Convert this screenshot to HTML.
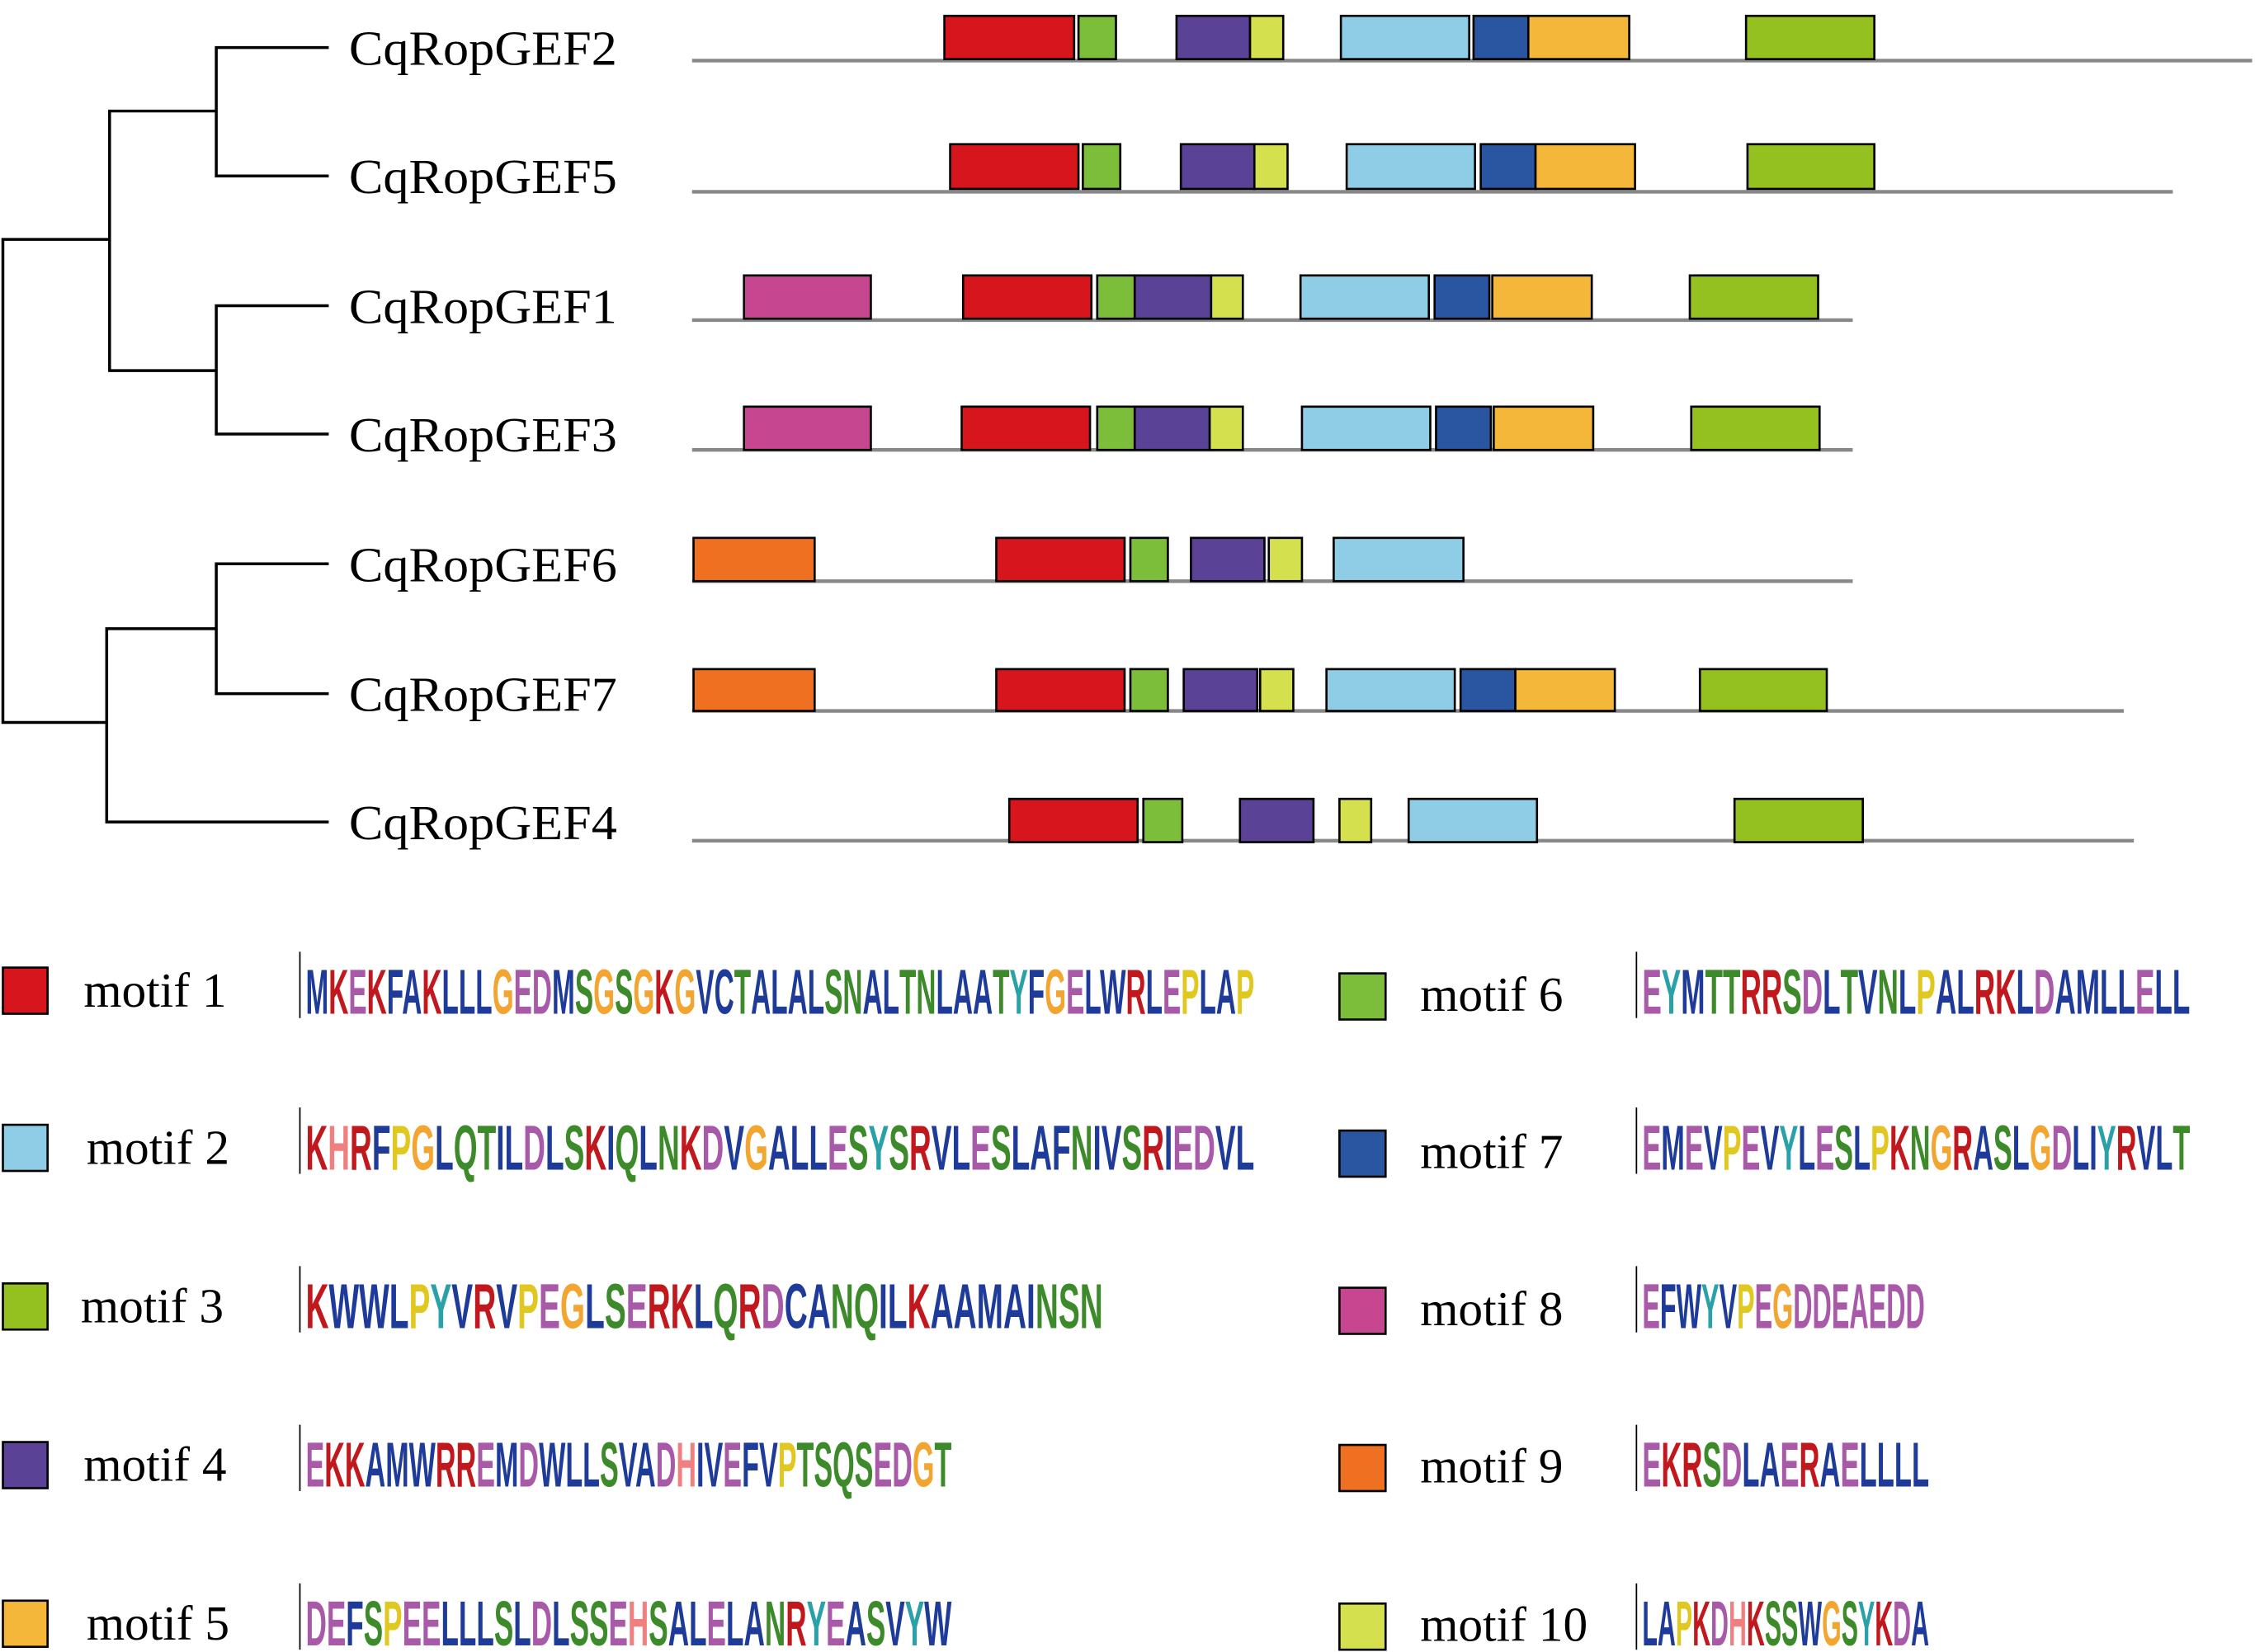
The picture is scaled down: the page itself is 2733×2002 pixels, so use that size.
<!DOCTYPE html>
<html><head><meta charset="utf-8"><style>
html,body{margin:0;padding:0;background:#fff}
svg{display:block}
.b{fill:#1f3b99}.r{fill:#c0181c}.p{fill:#a85aa8}.g{fill:#3d8a2a}.o{fill:#f2a530}.y{fill:#2aa0a8}.h{fill:#f08080}.yl{fill:#e0c820}
.logo{font-family:"Liberation Sans",sans-serif;font-size:44px;font-weight:bold}
.lab{font-family:"Liberation Serif",serif;font-size:34px;fill:#000}
</style></head><body>
<svg width="2733" height="2002" viewBox="0 0 1564 1145.6" preserveAspectRatio="none" xmlns="http://www.w3.org/2000/svg">
<g stroke="#000" stroke-width="2" fill="none">
<path d="M228 33H150V122H228M150 77H76V257H150M228 212H150V301H228M228 391H150V481H228M150 436H74V570H228M76 166H2V501H74"/>
</g>
<g class="lab">
<text x="242" y="45" textLength="186" lengthAdjust="spacingAndGlyphs">CqRopGEF2</text><text x="242" y="134" textLength="186" lengthAdjust="spacingAndGlyphs">CqRopGEF5</text><text x="242" y="224" textLength="186" lengthAdjust="spacingAndGlyphs">CqRopGEF1</text>
<text x="242" y="313" textLength="186" lengthAdjust="spacingAndGlyphs">CqRopGEF3</text><text x="242" y="403" textLength="186" lengthAdjust="spacingAndGlyphs">CqRopGEF6</text><text x="242" y="493" textLength="186" lengthAdjust="spacingAndGlyphs">CqRopGEF7</text><text x="242" y="582" textLength="186" lengthAdjust="spacingAndGlyphs">CqRopGEF4</text>
</g>
<g stroke="#888" stroke-width="2.5">
<line x1="480" y1="42" x2="1562" y2="42"/><line x1="480" y1="133" x2="1507" y2="133"/><line x1="480" y1="222" x2="1285" y2="222"/>
<line x1="480" y1="312" x2="1285" y2="312"/><line x1="480" y1="403" x2="1285" y2="403"/><line x1="480" y1="493" x2="1473" y2="493"/><line x1="480" y1="583" x2="1480" y2="583"/>
</g>
<g stroke="#000" stroke-width="1.5">
<g transform="translate(0,11)">
<rect x="655" width="90" height="30" fill="#d7151c"/><rect x="748" width="26" height="30" fill="#7cbd3a"/><rect x="816" width="51" height="30" fill="#5a4297"/><rect x="867" width="23" height="30" fill="#d5e04e"/><rect x="930" width="89" height="30" fill="#8ecde5"/><rect x="1022" width="38" height="30" fill="#2a56a1"/><rect x="1060" width="70" height="30" fill="#f4b73a"/><rect x="1211" width="89" height="30" fill="#94c11f"/>
</g>
<g transform="translate(0,100)">
<rect x="659" width="89" height="31" fill="#d7151c"/><rect x="751" width="26" height="31" fill="#7cbd3a"/><rect x="819" width="51" height="31" fill="#5a4297"/><rect x="870" width="23" height="31" fill="#d5e04e"/><rect x="934" width="89" height="31" fill="#8ecde5"/><rect x="1027" width="38" height="31" fill="#2a56a1"/><rect x="1065" width="69" height="31" fill="#f4b73a"/><rect x="1212" width="88" height="31" fill="#94c11f"/>
</g>
<g transform="translate(0,191)">
<rect x="516" width="88" height="30" fill="#c6468f"/><rect x="668" width="89" height="30" fill="#d7151c"/><rect x="761" width="26" height="30" fill="#7cbd3a"/><rect x="787" width="53" height="30" fill="#5a4297"/><rect x="840" width="22" height="30" fill="#d5e04e"/><rect x="902" width="89" height="30" fill="#8ecde5"/><rect x="995" width="38" height="30" fill="#2a56a1"/><rect x="1035" width="69" height="30" fill="#f4b73a"/><rect x="1172" width="89" height="30" fill="#94c11f"/>
</g>
<g transform="translate(0,282)">
<rect x="516" width="88" height="30" fill="#c6468f"/><rect x="667" width="89" height="30" fill="#d7151c"/><rect x="761" width="26" height="30" fill="#7cbd3a"/><rect x="787" width="52" height="30" fill="#5a4297"/><rect x="839" width="23" height="30" fill="#d5e04e"/><rect x="903" width="89" height="30" fill="#8ecde5"/><rect x="996" width="38" height="30" fill="#2a56a1"/><rect x="1036" width="69" height="30" fill="#f4b73a"/><rect x="1173" width="89" height="30" fill="#94c11f"/>
</g>
<g transform="translate(0,373)">
<rect x="481" width="84" height="30" fill="#ef7021"/><rect x="691" width="89" height="30" fill="#d7151c"/><rect x="784" width="26" height="30" fill="#7cbd3a"/><rect x="826" width="51" height="30" fill="#5a4297"/><rect x="880" width="23" height="30" fill="#d5e04e"/><rect x="925" width="90" height="30" fill="#8ecde5"/>
</g>
<g transform="translate(0,464)">
<rect x="481" width="84" height="29" fill="#ef7021"/><rect x="691" width="89" height="29" fill="#d7151c"/><rect x="784" width="26" height="29" fill="#7cbd3a"/><rect x="821" width="51" height="29" fill="#5a4297"/><rect x="874" width="23" height="29" fill="#d5e04e"/><rect x="920" width="89" height="29" fill="#8ecde5"/><rect x="1013" width="38" height="29" fill="#2a56a1"/><rect x="1051" width="69" height="29" fill="#f4b73a"/><rect x="1179" width="88" height="29" fill="#94c11f"/>
</g>
<g transform="translate(0,554)">
<rect x="700" width="89" height="30" fill="#d7151c"/><rect x="793" width="27" height="30" fill="#7cbd3a"/><rect x="860" width="51" height="30" fill="#5a4297"/><rect x="929" width="22" height="30" fill="#d5e04e"/><rect x="977" width="89" height="30" fill="#8ecde5"/><rect x="1203" width="89" height="30" fill="#94c11f"/>
</g>
<rect x="2" y="671" width="31" height="32" fill="#d7151c"/><rect x="2" y="780" width="31" height="32" fill="#8ecde5"/><rect x="2" y="890" width="31" height="32" fill="#94c11f"/><rect x="2" y="1000" width="31" height="32" fill="#5a4297"/><rect x="2" y="1110" width="31" height="32" fill="#f4b73a"/>
<rect x="929" y="675" width="32" height="32" fill="#7cbd3a"/><rect x="929" y="784" width="32" height="32" fill="#2a56a1"/><rect x="929" y="893" width="32" height="32" fill="#c6468f"/><rect x="929" y="1002" width="32" height="32" fill="#ef7021"/><rect x="929" y="1112" width="32" height="32" fill="#d5e04e"/>
</g>
<g class="lab">
<text x="58" y="698">motif 1</text><text x="60" y="807">motif 2</text><text x="56" y="917">motif 3</text><text x="58" y="1027">motif 4</text><text x="60" y="1137">motif 5</text>
<text x="985" y="701">motif 6</text><text x="985" y="810">motif 7</text><text x="985" y="919">motif 8</text><text x="985" y="1028">motif 9</text><text x="985" y="1138">motif 10</text>
</g>
<g class="logo" stroke="none">
<g stroke="#000" stroke-width="1"><line x1="208" y1="660" x2="208" y2="706"/><line x1="208" y1="768" x2="208" y2="814"/><line x1="208" y1="878" x2="208" y2="924"/><line x1="208" y1="988" x2="208" y2="1034"/><line x1="208" y1="1098" x2="208" y2="1144"/>
<line x1="1135" y1="660" x2="1135" y2="706"/><line x1="1135" y1="768" x2="1135" y2="814"/><line x1="1135" y1="878" x2="1135" y2="924"/><line x1="1135" y1="988" x2="1135" y2="1034"/><line x1="1135" y1="1098" x2="1135" y2="1144"/></g>
<text x="212" y="703" textLength="658" lengthAdjust="spacingAndGlyphs"><tspan class="b">M</tspan><tspan class="r">K</tspan><tspan class="p">E</tspan><tspan class="r">K</tspan><tspan class="b">FA</tspan><tspan class="r">K</tspan><tspan class="b">LLL</tspan><tspan class="o">G</tspan><tspan class="p">ED</tspan><tspan class="b">M</tspan><tspan class="g">S</tspan><tspan class="o">G</tspan><tspan class="g">S</tspan><tspan class="o">G</tspan><tspan class="r">K</tspan><tspan class="o">G</tspan><tspan class="b">VC</tspan><tspan class="g">T</tspan><tspan class="b">ALAL</tspan><tspan class="g">SN</tspan><tspan class="b">AL</tspan><tspan class="g">TN</tspan><tspan class="b">LAA</tspan><tspan class="g">T</tspan><tspan class="y">Y</tspan><tspan class="b">F</tspan><tspan class="o">G</tspan><tspan class="p">E</tspan><tspan class="b">LW</tspan><tspan class="r">R</tspan><tspan class="b">L</tspan><tspan class="p">E</tspan><tspan class="yl">P</tspan><tspan class="b">LA</tspan><tspan class="yl">P</tspan></text>
<text x="212" y="811" textLength="658" lengthAdjust="spacingAndGlyphs"><tspan class="r">K</tspan><tspan class="h">H</tspan><tspan class="r">R</tspan><tspan class="b">F</tspan><tspan class="yl">P</tspan><tspan class="o">G</tspan><tspan class="b">L</tspan><tspan class="g">Q</tspan><tspan class="g">T</tspan><tspan class="b">IL</tspan><tspan class="p">D</tspan><tspan class="b">L</tspan><tspan class="g">S</tspan><tspan class="r">K</tspan><tspan class="b">I</tspan><tspan class="g">Q</tspan><tspan class="b">L</tspan><tspan class="g">N</tspan><tspan class="r">K</tspan><tspan class="p">D</tspan><tspan class="b">V</tspan><tspan class="o">G</tspan><tspan class="b">ALL</tspan><tspan class="p">E</tspan><tspan class="g">S</tspan><tspan class="y">Y</tspan><tspan class="g">S</tspan><tspan class="r">R</tspan><tspan class="b">VL</tspan><tspan class="p">E</tspan><tspan class="g">S</tspan><tspan class="b">LAF</tspan><tspan class="g">N</tspan><tspan class="b">IV</tspan><tspan class="g">S</tspan><tspan class="r">R</tspan><tspan class="b">I</tspan><tspan class="p">ED</tspan><tspan class="b">VL</tspan></text>
<text x="212" y="921" textLength="553" lengthAdjust="spacingAndGlyphs"><tspan class="r">K</tspan><tspan class="b">WWL</tspan><tspan class="yl">P</tspan><tspan class="y">Y</tspan><tspan class="b">V</tspan><tspan class="r">R</tspan><tspan class="b">V</tspan><tspan class="yl">P</tspan><tspan class="p">E</tspan><tspan class="o">G</tspan><tspan class="b">L</tspan><tspan class="g">S</tspan><tspan class="p">E</tspan><tspan class="r">RK</tspan><tspan class="b">L</tspan><tspan class="g">Q</tspan><tspan class="r">R</tspan><tspan class="p">D</tspan><tspan class="b">CA</tspan><tspan class="g">NQ</tspan><tspan class="b">IL</tspan><tspan class="r">K</tspan><tspan class="b">AAMAI</tspan><tspan class="g">NSN</tspan></text>
<text x="212" y="1031" textLength="448" lengthAdjust="spacingAndGlyphs"><tspan class="p">E</tspan><tspan class="r">KK</tspan><tspan class="b">AMW</tspan><tspan class="r">RR</tspan><tspan class="p">E</tspan><tspan class="b">M</tspan><tspan class="p">D</tspan><tspan class="b">WLL</tspan><tspan class="g">S</tspan><tspan class="b">VA</tspan><tspan class="p">D</tspan><tspan class="h">H</tspan><tspan class="b">IV</tspan><tspan class="p">E</tspan><tspan class="b">FV</tspan><tspan class="yl">P</tspan><tspan class="g">TSQS</tspan><tspan class="p">ED</tspan><tspan class="o">G</tspan><tspan class="g">T</tspan></text>
<text x="212" y="1141" textLength="448" lengthAdjust="spacingAndGlyphs"><tspan class="p">DE</tspan><tspan class="b">F</tspan><tspan class="g">S</tspan><tspan class="yl">P</tspan><tspan class="p">EE</tspan><tspan class="b">LLL</tspan><tspan class="g">S</tspan><tspan class="b">L</tspan><tspan class="p">D</tspan><tspan class="b">L</tspan><tspan class="g">SS</tspan><tspan class="p">E</tspan><tspan class="h">H</tspan><tspan class="g">S</tspan><tspan class="b">AL</tspan><tspan class="p">E</tspan><tspan class="b">LA</tspan><tspan class="g">N</tspan><tspan class="r">R</tspan><tspan class="y">Y</tspan><tspan class="p">E</tspan><tspan class="b">A</tspan><tspan class="g">S</tspan><tspan class="b">V</tspan><tspan class="y">Y</tspan><tspan class="b">W</tspan></text>
<text x="1139" y="703" textLength="380" lengthAdjust="spacingAndGlyphs"><tspan class="p">E</tspan><tspan class="y">Y</tspan><tspan class="b">M</tspan><tspan class="g">TT</tspan><tspan class="r">RR</tspan><tspan class="g">S</tspan><tspan class="p">D</tspan><tspan class="b">L</tspan><tspan class="g">T</tspan><tspan class="b">V</tspan><tspan class="g">N</tspan><tspan class="b">L</tspan><tspan class="yl">P</tspan><tspan class="b">AL</tspan><tspan class="r">RK</tspan><tspan class="b">L</tspan><tspan class="p">D</tspan><tspan class="b">AMLL</tspan><tspan class="p">E</tspan><tspan class="b">LL</tspan></text>
<text x="1139" y="811" textLength="380" lengthAdjust="spacingAndGlyphs"><tspan class="p">E</tspan><tspan class="b">M</tspan><tspan class="p">E</tspan><tspan class="b">V</tspan><tspan class="yl">P</tspan><tspan class="p">E</tspan><tspan class="b">V</tspan><tspan class="y">Y</tspan><tspan class="b">L</tspan><tspan class="p">E</tspan><tspan class="g">S</tspan><tspan class="b">L</tspan><tspan class="yl">P</tspan><tspan class="r">K</tspan><tspan class="g">N</tspan><tspan class="o">G</tspan><tspan class="r">R</tspan><tspan class="b">A</tspan><tspan class="g">S</tspan><tspan class="b">L</tspan><tspan class="o">G</tspan><tspan class="p">D</tspan><tspan class="b">LI</tspan><tspan class="y">Y</tspan><tspan class="r">R</tspan><tspan class="b">VL</tspan><tspan class="g">T</tspan></text>
<text x="1139" y="921" textLength="196" lengthAdjust="spacingAndGlyphs"><tspan class="p">E</tspan><tspan class="b">FW</tspan><tspan class="y">Y</tspan><tspan class="b">V</tspan><tspan class="yl">P</tspan><tspan class="p">E</tspan><tspan class="o">G</tspan><tspan class="p">DDEAEDD</tspan></text>
<text x="1139" y="1031" textLength="199" lengthAdjust="spacingAndGlyphs"><tspan class="p">E</tspan><tspan class="r">KR</tspan><tspan class="g">S</tspan><tspan class="p">D</tspan><tspan class="b">LA</tspan><tspan class="p">E</tspan><tspan class="r">R</tspan><tspan class="b">A</tspan><tspan class="p">E</tspan><tspan class="b">LLLL</tspan></text>
<text x="1139" y="1141" textLength="199" lengthAdjust="spacingAndGlyphs"><tspan class="b">LA</tspan><tspan class="yl">P</tspan><tspan class="r">K</tspan><tspan class="p">D</tspan><tspan class="h">H</tspan><tspan class="r">K</tspan><tspan class="g">SS</tspan><tspan class="b">W</tspan><tspan class="o">G</tspan><tspan class="g">S</tspan><tspan class="y">Y</tspan><tspan class="r">K</tspan><tspan class="p">D</tspan><tspan class="b">A</tspan></text>
</g>
</svg>
</body></html>
